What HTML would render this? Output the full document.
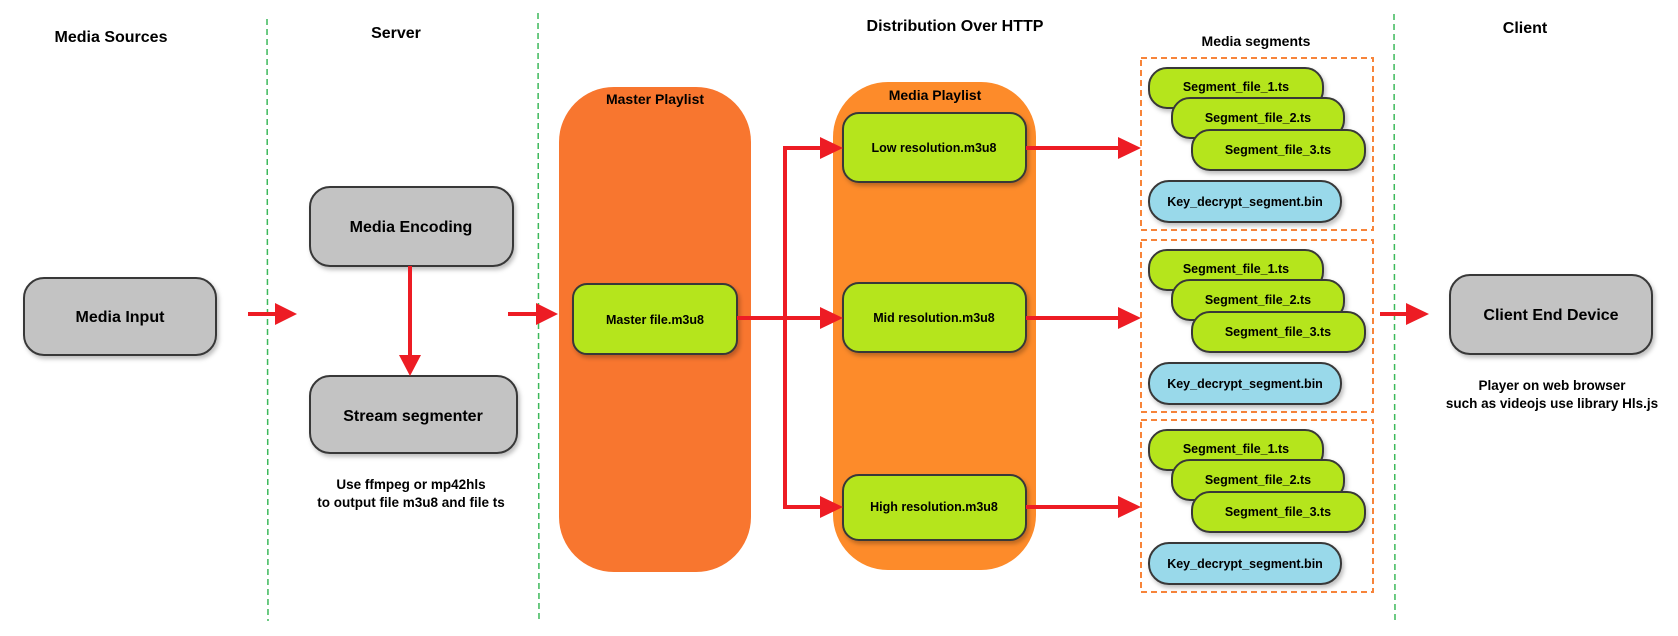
<!DOCTYPE html>
<html><head><meta charset="utf-8"><style>
html,body{margin:0;padding:0;background:#fff;}
svg{display:block;}
text{font-family:"Liberation Sans","DejaVu Sans",sans-serif;font-weight:bold;fill:#000;}
</style></head><body>
<svg width="1678" height="636" viewBox="0 0 1678 636" xmlns="http://www.w3.org/2000/svg">
<defs>
<filter id="sh" x="-10%" y="-10%" width="130%" height="140%"><feDropShadow dx="2" dy="3" stdDeviation="2" flood-color="#000" flood-opacity="0.25"/></filter>
<marker id="ah" markerWidth="8" markerHeight="8" refX="7" refY="4" orient="auto" markerUnits="userSpaceOnUse" viewBox="0 0 8 8"></marker>
</defs>
<!-- dashed lines -->
<g stroke="#3cb95a" stroke-width="1.5" stroke-dasharray="6,4">
<line x1="267" y1="19" x2="268" y2="621"/>
<line x1="538" y1="13" x2="539" y2="621"/>
<line x1="1394" y1="14" x2="1395" y2="621"/>
</g>
<!-- titles -->
<g font-size="16" text-anchor="middle">
<text x="111" y="42">Media Sources</text>
<text x="396" y="38">Server</text>
<text x="955" y="31">Distribution Over HTTP</text>
<text x="1525" y="33">Client</text>
<text x="1256" y="46" font-size="14">Media segments</text>
</g>
<!-- orange containers -->
<rect x="559" y="87" width="192" height="485" rx="55" fill="#f8762f"/>
<text x="655" y="104" font-size="14" text-anchor="middle">Master Playlist</text>
<rect x="833" y="82" width="203" height="488" rx="55" fill="#fd8b2a"/>
<text x="935" y="100" font-size="14" text-anchor="middle">Media Playlist</text>
<!-- gray boxes -->
<g fill="#c3c3c3" stroke="#383838" stroke-width="2" filter="url(#sh)">
<rect x="24" y="278" width="192" height="77" rx="20"/>
<rect x="310" y="187" width="203" height="79" rx="20"/>
<rect x="310" y="376" width="207" height="77" rx="20"/>
<rect x="1450" y="275" width="202" height="79" rx="20"/>
</g>
<g font-size="16" text-anchor="middle">
<text x="120" y="322">Media Input</text>
<text x="411" y="232">Media Encoding</text>
<text x="413" y="421">Stream segmenter</text>
<text x="1551" y="320">Client End Device</text>
</g>
<g font-size="13.5" text-anchor="middle">
<text x="411" y="489">Use ffmpeg or mp42hls</text>
<text x="411" y="507">to output file m3u8 and file ts</text>
<text x="1552" y="390">Player on web browser</text>
<text x="1552" y="408">such as videojs use library Hls.js</text>
</g>
<!-- green playlist boxes -->
<g fill="#b5e51d" stroke="#383838" stroke-width="2" filter="url(#sh)">
<rect x="573" y="284" width="164" height="70" rx="14"/>
<rect x="843" y="113" width="183" height="69" rx="16"/>
<rect x="843" y="283" width="183" height="69" rx="16"/>
<rect x="843" y="475" width="183" height="65" rx="16"/>
</g>
<g font-size="12.5" text-anchor="middle">
<text x="655" y="324">Master file.m3u8</text>
<text x="934" y="152">Low resolution.m3u8</text>
<text x="934" y="322">Mid resolution.m3u8</text>
<text x="934" y="511">High resolution.m3u8</text>
</g>
<!-- red arrows -->
<g stroke="#ed1c24" stroke-width="4" fill="none">
<line x1="248" y1="314" x2="280" y2="314"/>
<line x1="410" y1="266" x2="410" y2="358"/>
<line x1="508" y1="314" x2="542" y2="314"/>
<line x1="737" y1="318" x2="826" y2="318"/>
<polyline points="826,148 785,148 785,507 826,507"/>
<line x1="1026" y1="148" x2="1122" y2="148"/>
<line x1="1026" y1="318" x2="1122" y2="318"/>
<line x1="1026" y1="507" x2="1122" y2="507"/>
<line x1="1380" y1="314" x2="1412" y2="314"/>
</g>
<g fill="#ed1c24">
<polygon points="275,303 297,314 275,325"/>
<polygon points="399,355 421,355 410,376"/>
<polygon points="536,303 558,314 536,325"/>
<polygon points="820,137 843,148 820,159"/>
<polygon points="820,307 843,318 820,329"/>
<polygon points="820,496 843,507 820,518"/>
<polygon points="1118,137 1141,148 1118,159"/>
<polygon points="1118,307 1141,318 1118,329"/>
<polygon points="1118,496 1141,507 1118,518"/>
<polygon points="1406,303 1429,314 1406,325"/>
</g>
<!-- segment groups -->
<g id="g1">
<rect x="1141" y="58" width="232" height="172" fill="none" stroke="#f7843a" stroke-width="2" stroke-dasharray="6,4"/>
<g stroke="#383838" stroke-width="2" filter="url(#sh)">
<rect x="1149" y="68" width="174" height="40" rx="18" fill="#b5e51d"/>
<rect x="1172" y="98" width="172" height="40" rx="18" fill="#b5e51d"/>
<rect x="1192" y="130" width="173" height="40" rx="18" fill="#b5e51d"/>
<rect x="1149" y="181" width="192" height="41" rx="20" fill="#99d9ea"/>
</g>
<g font-size="12.5" text-anchor="middle">
<text x="1236" y="91">Segment_file_1.ts</text>
<text x="1258" y="122">Segment_file_2.ts</text>
<text x="1278" y="154">Segment_file_3.ts</text>
<text x="1245" y="206">Key_decrypt_segment.bin</text>
</g>
</g>
<use href="#g1" transform="translate(0,182)"/>
<use href="#g1" transform="translate(0,362)"/>
</svg>
</body></html>
